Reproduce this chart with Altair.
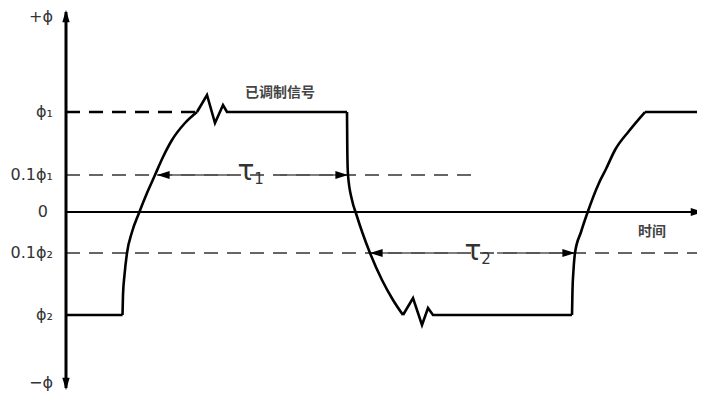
import altair as alt
import pandas as pd

# ---- data (diagram units: time t, phase value) ----
level_labels = ["+ϕ", "ϕ₁", "0.1ϕ₁", "0", "0.1ϕ₂", "ϕ₂", "−ϕ"]
level_values = [1.95, 1.0, 0.37, 0.0, -0.41, -1.03, -1.71]

# straight parts of the signal (flats and ringing), one list per piece
flat1_t, flat1_phi = [0, 56.5], [-1.03, -1.03]
ring1_t = [131, 141, 149, 157, 161, 281]
ring1_phi = [1.0, 1.17, 0.89, 1.07, 1.0, 1.0]
ring2_t = [337, 347, 356, 362, 367, 506]
ring2_phi = [-1.03, -0.86, -1.13, -0.96, -1.03, -1.03]
flat2_t, flat2_phi = [579, 634], [1.0, 1.0]

# curved edges of the signal
rise1_t = [56.5, 57, 58.5, 61, 66, 73, 81, 89, 97, 106, 119, 131]
rise1_phi = [-1.03, -0.83, -0.63, -0.41, -0.20, -0.01, 0.19, 0.37, 0.55, 0.72, 0.89, 1.0]
fall_t = [281, 281.3, 282, 286, 290.2, 296.5, 304, 316, 327, 337]
fall_phi = [1.0, 0.62, 0.37, 0.12, -0.02, -0.21, -0.41, -0.68, -0.88, -1.03]
rise2_t = [506, 506.5, 507.5, 509, 515, 521, 533, 540, 549, 563, 579]
rise2_phi = [-1.03, -0.78, -0.58, -0.41, -0.20, -0.02, 0.29, 0.43, 0.62, 0.81, 1.0]

# reference (dashed) lines
phi1_line = (0, 131, 1.0)
tenth_lines_start = [0, 0]
tenth_lines_end = [414, 634]
tenth_lines_level = [0.37, -0.41]

# tau arrows
arrow_start = [91, 214, 304, 431]
arrow_end = [164, 282, 391, 509]
arrow_level = [0.37, 0.37, -0.41, -0.41]
head_t = [91, 282, 304, 509]
head_phi = [0.37, 0.37, -0.41, -0.41]
head_dir = ["left", "right", "left", "right"]

tau_labels = ["τ", "τ"]
tau_t = [180, 407]
tau_phi = [0.40, -0.40]
tau_sub_labels = ["1", "2"]
tau_sub_t = [193, 420]
tau_sub_phi = [0.33, -0.47]

annot_labels = ["已调制信号", "时间"]
annot_t = [214, 586]
annot_phi = [1.19, -0.20]

# axes
x_axis = (0, 634)
y_axis = (2.0, -1.76)
axis_head_t = [637, 0, 0]
axis_head_phi = [0.0, 2.02, -1.78]
axis_head_dir = ["right", "up", "down"]

# ---- chart ----
X = alt.Scale(domain=[-58, 631])
Y = alt.Scale(domain=[-1.81, 2.04])


def xq(f):
    return alt.X(f, type="quantitative", scale=X, axis=None)


def yq(f):
    return alt.Y(f, type="quantitative", scale=Y, axis=None)


shapes = {
    "left": "M0,0L2,-0.65L2,0.65Z",
    "right": "M0,0L-2,-0.65L-2,0.65Z",
    "up": "M0,0L-0.6,2L0.6,2Z",
    "down": "M0,0L-0.6,-2L0.6,-2Z",
}


def pieces(parts):
    rows = []
    for seg, (ts, ps) in enumerate(parts):
        for i, (t, p) in enumerate(zip(ts, ps)):
            rows.append({"seg": seg, "i": i, "t": t, "phi": p})
    return pd.DataFrame(rows)


straight_df = pieces([(flat1_t, flat1_phi), (ring1_t, ring1_phi), (ring2_t, ring2_phi), (flat2_t, flat2_phi)])
curve_df = pieces([(rise1_t, rise1_phi), (fall_t, fall_phi), (rise2_t, rise2_phi)])

straight = alt.Chart(straight_df).mark_line(color="black", strokeWidth=2.6, strokeJoin="miter").encode(
    x=xq("t"), y=yq("phi"), detail="seg:N", order="i:Q")
curves = alt.Chart(curve_df).mark_line(color="black", strokeWidth=2.6, interpolate="monotone").encode(
    x=xq("t"), y=yq("phi"), detail="seg:N", order="i:Q")

phi1_df = pd.DataFrame({"t0": [phi1_line[0]], "t1": [phi1_line[1]], "lv": [phi1_line[2]]})
phi1 = alt.Chart(phi1_df).mark_rule(color="black", strokeWidth=2.6, strokeDash=[14, 9]).encode(
    x=xq("t0"), x2="t1", y=yq("lv"))

tenth_df = pd.DataFrame({"t0": tenth_lines_start, "t1": tenth_lines_end, "lv": tenth_lines_level})
tenth = alt.Chart(tenth_df).mark_rule(color="#666666", strokeWidth=1.8, strokeDash=[14, 9]).encode(
    x=xq("t0"), x2="t1", y=yq("lv"))

arr_df = pd.DataFrame({"t0": arrow_start, "t1": arrow_end, "lv": arrow_level})
arrows = alt.Chart(arr_df).mark_rule(color="#555555", strokeWidth=1.6).encode(
    x=xq("t0"), x2="t1", y=yq("lv"))

xa_df = pd.DataFrame({"t0": [x_axis[0]], "t1": [x_axis[1]], "lv": [0.0]})
xaxis = alt.Chart(xa_df).mark_rule(color="black", strokeWidth=2).encode(x=xq("t0"), x2="t1", y=yq("lv"))
ya_df = pd.DataFrame({"t": [0.0], "p0": [y_axis[0]], "p1": [y_axis[1]]})
yaxis = alt.Chart(ya_df).mark_rule(color="black", strokeWidth=3).encode(x=xq("t"), y=yq("p0"), y2="p1")

layers = [tenth, phi1, arrows, xaxis, yaxis, straight, curves]

head_df = pd.DataFrame({"t": head_t, "phi": head_phi, "dir": head_dir})
for d in ["left", "right"]:
    layers.append(alt.Chart(head_df).transform_filter(alt.datum.dir == d).mark_point(
        shape=shapes[d], size=160, filled=True, opacity=1, color="black", strokeWidth=0).encode(
        x=xq("t"), y=yq("phi")))

ahead_df = pd.DataFrame({"t": axis_head_t, "phi": axis_head_phi, "dir": axis_head_dir})
for d in ["right", "up", "down"]:
    layers.append(alt.Chart(ahead_df).transform_filter(alt.datum.dir == d).mark_point(
        shape=shapes[d], size=150, filled=True, opacity=1, color="black", strokeWidth=0).encode(
        x=xq("t"), y=yq("phi")))

lab_df = pd.DataFrame({"label": level_labels, "phi": level_values, "t": [-13] * len(level_labels)})
lab_df.loc[lab_df["label"] == "0", "t"] = -18
ylabels = alt.Chart(lab_df).mark_text(align="right", baseline="middle", fontSize=16, color="#333333",
                                      font="DejaVu Sans").encode(x=xq("t"), y=yq("phi"), text="label:N")

tau_df = pd.DataFrame({"label": tau_labels, "t": tau_t, "phi": tau_phi})
taus = alt.Chart(tau_df).mark_text(align="center", baseline="middle", fontSize=28, color="#333333",
                                   font="DejaVu Sans").encode(x=xq("t"), y=yq("phi"), text="label:N")
tsub_df = pd.DataFrame({"label": tau_sub_labels, "t": tau_sub_t, "phi": tau_sub_phi})
tsubs = alt.Chart(tsub_df).mark_text(align="center", baseline="middle", fontSize=15, color="#333333",
                                     font="DejaVu Sans").encode(x=xq("t"), y=yq("phi"), text="label:N")

ann_df = pd.DataFrame({"label": annot_labels, "t": annot_t, "phi": annot_phi})
annots = alt.Chart(ann_df).mark_text(align="center", baseline="middle", fontSize=14, color="#444444",
                                     font="Noto Sans CJK SC", fontWeight="bold").encode(
    x=xq("t"), y=yq("phi"), text="label:N")

layers += [ylabels, taus, tsubs, annots]

chart = alt.layer(*layers).properties(
    width=689, height=385, autosize=alt.AutoSizeParams(type="none"), padding=0,
    background="white").configure_view(stroke=None)

chart.save("out.html", embed_options={"renderer": "svg", "actions": False})
